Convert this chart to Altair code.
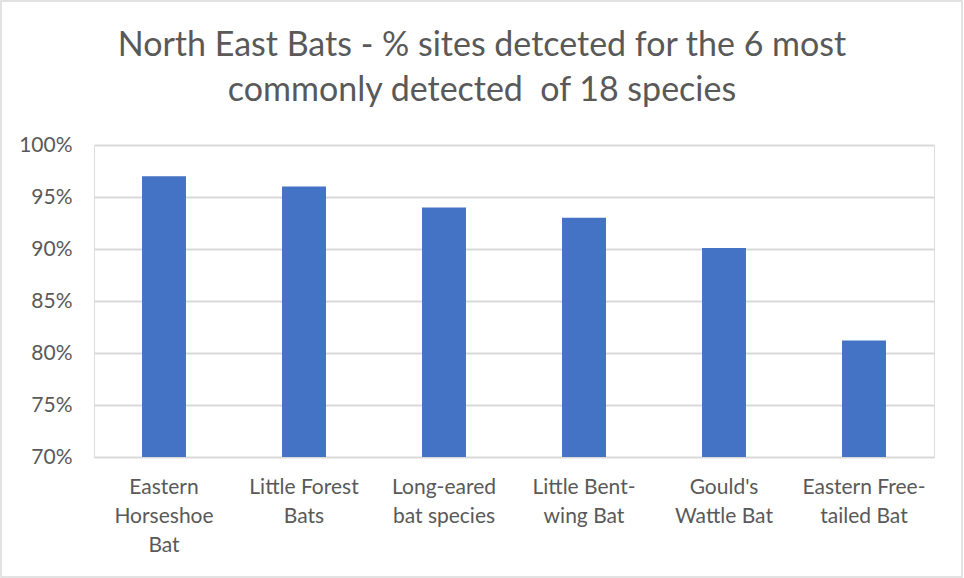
import altair as alt
import pandas as pd

categories = [
    "Eastern\nHorseshoe\nBat",
    "Little Forest\nBats",
    "Long-eared\nbat species",
    "Little Bent-\nwing Bat",
    "Gould's\nWattle Bat",
    "Eastern Free-\ntailed Bat",
]
values = [0.97, 0.96, 0.94, 0.93, 0.901, 0.812]
y_ticks = [0.70, 0.75, 0.80, 0.85, 0.90, 0.95, 1.00]
title_lines = [
    "North East Bats - % sites detceted for the 6 most",
    "commonly detected \u00a0of 18 species",
]

df = pd.DataFrame({"species": categories, "pct": values})

FONT = "Lato"
TXT = "#595959"
GRID = "#d9d9d9"

bars = alt.Chart(df).mark_bar(color="#4472C4").encode(
    x=alt.X(
        "species:N",
        sort=None,
        title=None,
        scale=alt.Scale(paddingInner=0.686, paddingOuter=0.343),
        axis=alt.Axis(
            labelAngle=0,
            labelExpr="split(datum.label, '\\n')",
            labelFont=FONT,
            labelFontSize=21,
            labelColor=TXT,
            labelLineHeight=29,
            labelPadding=19,
            labelLimit=300,
            ticks=False,
            domain=False,
            grid=False,
        ),
    ),
    y=alt.Y(
        "pct:Q",
        title=None,
        scale=alt.Scale(domain=[0.70, 1.00], zero=False, nice=False),
        axis=alt.Axis(
            values=y_ticks,
            format=".0%",
            labelFont=FONT,
            labelFontSize=21,
            labelColor=TXT,
            labelPadding=22,
            ticks=False,
            domain=False,
            grid=True,
            gridColor=GRID,
            gridWidth=2,
        ),
    ),
    y2=alt.datum(0.70),
)

border = alt.Chart(pd.DataFrame({"a": [0]})).mark_rect(
    fill=None, stroke=GRID, strokeWidth=1.5, clip=False
).encode(
    x=alt.value(-93), x2=alt.value(868), y=alt.value(-144), y2=alt.value(432)
)

chart = alt.layer(border, bars).properties(
    width=840,
    height=312,
    padding={"left": 94, "top": 145, "right": 30, "bottom": 121},
    autosize=alt.AutoSizeParams(type="none"),
    title=alt.TitleParams(
        title_lines,
        font=FONT,
        fontSize=34,
        fontWeight="normal",
        color=TXT,
        lineHeight=45,
        anchor="middle",
        dx=-32,
        offset=-108,
    ),
).configure_view(stroke=None).configure(background="white")

chart.save("out.html", embed_options={"renderer": "svg", "actions": False})
